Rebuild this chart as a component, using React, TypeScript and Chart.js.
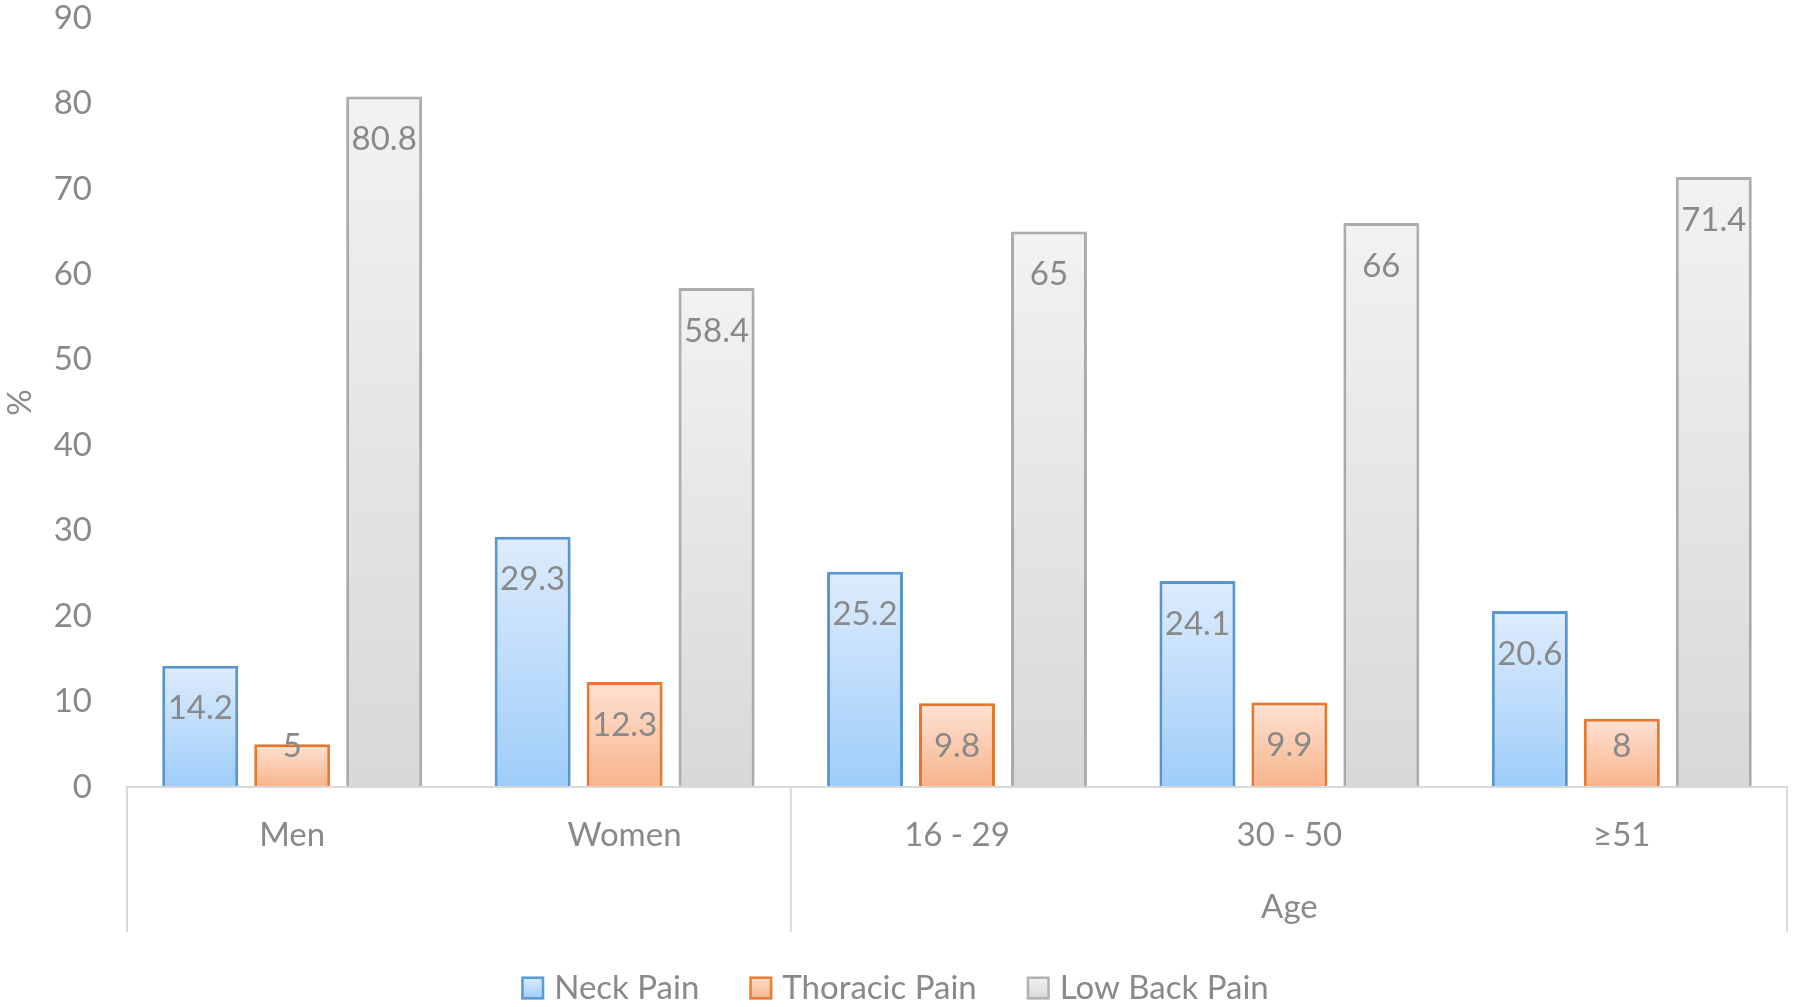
import React, { useEffect, useRef } from "react";
import { Chart, registerables } from "chart.js";

Chart.register(...registerables);

const categories = ["Men", "Women", "16 - 29", "30 - 50", "≥51"];
const neckPain = [14.2, 29.3, 25.2, 24.1, 20.6];
const thoracicPain = [5, 12.3, 9.8, 9.9, 8];
const lowBackPain = [80.8, 58.4, 65, 66, 71.4];
const seriesNames = ["Neck Pain", "Thoracic Pain", "Low Back Pain"];
const groupLabels = [
  { label: "", from: 0, to: 1 },
  { label: "Age", from: 2, to: 4 },
];
const yMin = 0;
const yMax = 90;
const yStep = 10;
const yTitle = "%";

const FONT = "Lato, 'Open Sans', sans-serif";
const FS = 33;
const TEXT = "#898989";
const AXIS = "#d9d9d9";

const styles = [
  { border: "#5b9bd5", top: "#deecfd", bottom: "#9ecdf9" },
  { border: "#ed7d31", top: "#fde2d3", bottom: "#f8b48c" },
  { border: "#b2b2b2", top: "#f2f2f2", bottom: "#d8d8d8" },
];

function gradientFill(i: number) {
  return (c: any) => {
    const chart = c.chart;
    const s = styles[i];
    if (!chart.chartArea || c.type !== "data") return s.top;
    const y = chart.scales.y;
    const top = y.getPixelForValue(c.raw);
    const base = y.getPixelForValue(0);
    const g = chart.ctx.createLinearGradient(0, top, 0, base);
    g.addColorStop(0, s.top);
    g.addColorStop(1, s.bottom);
    return g;
  };
}

const decorPlugin = {
  id: "decor",
  beforeDatasetsDraw(chart: any) {
    const ctx = chart.ctx;
    ctx.save();
    ctx.shadowColor = "rgba(0,0,0,0.13)";
    ctx.shadowBlur = 7;
  },
  afterDatasetsDraw(chart: any) {
    const ctx = chart.ctx;
    ctx.restore();
    const { chartArea, scales } = chart;
    const xs = scales.x;
    const ys = scales.y;
    const base = ys.getPixelForValue(0);

    // axis line
    ctx.save();
    ctx.strokeStyle = AXIS;
    ctx.lineWidth = 2;
    ctx.beginPath();
    ctx.moveTo(chartArea.left, base);
    ctx.lineTo(chartArea.right, base);
    ctx.stroke();

    // group separators
    const half = (xs.getPixelForValue(1) - xs.getPixelForValue(0)) / 2;
    const sepBottom = 932;
    const seps: number[] = [chartArea.left + 1];
    groupLabels.forEach((g, gi) => {
      if (gi < groupLabels.length - 1) seps.push(xs.getPixelForValue(g.to) + half);
    });
    seps.push(chartArea.right - 1);
    seps.forEach((x) => {
      ctx.beginPath();
      ctx.moveTo(x, base);
      ctx.lineTo(x, sepBottom);
      ctx.stroke();
    });

    ctx.fillStyle = TEXT;
    ctx.font = `${FS}px ${FONT}`;
    ctx.textBaseline = "middle";

    // y tick labels
    ctx.textAlign = "right";
    for (let v = yMin; v <= yMax; v += yStep) {
      ctx.fillText(String(v), 92, ys.getPixelForValue(v));
    }

    ctx.textAlign = "center";
    // category labels
    categories.forEach((c, i) => {
      ctx.fillText(c, xs.getPixelForValue(i), 835);
    });
    // group labels
    groupLabels.forEach((g) => {
      if (!g.label) return;
      const cx = (xs.getPixelForValue(g.from) + xs.getPixelForValue(g.to)) / 2;
      ctx.fillText(g.label, cx, 907);
    });

    // y title
    ctx.save();
    ctx.translate(20, (chartArea.top + chartArea.bottom) / 2);
    ctx.rotate(-Math.PI / 2);
    ctx.fillText(yTitle, 0, 0);
    ctx.restore();

    // data labels
    chart.data.datasets.forEach((ds: any, di: number) => {
      const meta = chart.getDatasetMeta(di);
      meta.data.forEach((el: any, i: number) => {
        const v = ds.data[i];
        const y = Math.min(el.y + 43, base - 41);
        ctx.fillText(String(v), el.x, y);
      });
    });

    // legend
    const box = 23;
    const gapBoxText = 10;
    const gapItems = 50;
    const widths = seriesNames.map((n) => box + gapBoxText + ctx.measureText(n).width);
    const total = widths.reduce((a, b) => a + b, 0) + gapItems * (seriesNames.length - 1);
    let x = 895 - total / 2;
    const ly = 988;
    ctx.textAlign = "left";
    seriesNames.forEach((n, i) => {
      const s = styles[i];
      const g = ctx.createLinearGradient(0, ly - box / 2, 0, ly + box / 2);
      g.addColorStop(0, s.top);
      g.addColorStop(1, s.bottom);
      ctx.fillStyle = g;
      ctx.fillRect(x, ly - box / 2, box, box);
      ctx.strokeStyle = s.border;
      ctx.lineWidth = 2.5;
      ctx.strokeRect(x + 1.25, ly - box / 2 + 1.25, box - 2.5, box - 2.5);
      ctx.fillStyle = TEXT;
      ctx.fillText(n, x + box + gapBoxText, ly);
      x += widths[i] + gapItems;
    });
    ctx.restore();
  },
};

export default function App() {
  const ref = useRef<HTMLCanvasElement | null>(null);
  useEffect(() => {
    document.body.style.margin = "0";
    if (!ref.current) return;
    const series = [neckPain, thoracicPain, lowBackPain];
    const chart = new Chart(ref.current, {
      type: "bar",
      data: {
        labels: categories,
        datasets: series.map((d, i) => ({
          label: seriesNames[i],
          data: d,
          backgroundColor: gradientFill(i),
          borderColor: styles[i].border,
          borderWidth: 3,
          categoryPercentage: 0.83,
          barPercentage: 0.826,
        })),
      },
      options: {
        animation: false,
        responsive: true,
        maintainAspectRatio: false,
        layout: { padding: { left: 0, right: 8, top: 18, bottom: 220 } },
        plugins: {
          legend: { display: false },
          tooltip: { enabled: false },
        },
        scales: {
          x: { display: false },
          y: {
            min: yMin,
            max: yMax,
            ticks: { stepSize: yStep, display: false, padding: 0 },
            grid: { display: false, drawTicks: false },
            border: { display: false },
            afterFit: (s: any) => {
              s.width = 126;
            },
          },
        },
      },
      plugins: [decorPlugin],
    });
    return () => chart.destroy();
  }, []);
  return (
    <div style={{ width: 1796, height: 1007, position: "relative", background: "#fff" }}>
      <canvas ref={ref} />
    </div>
  );
}
